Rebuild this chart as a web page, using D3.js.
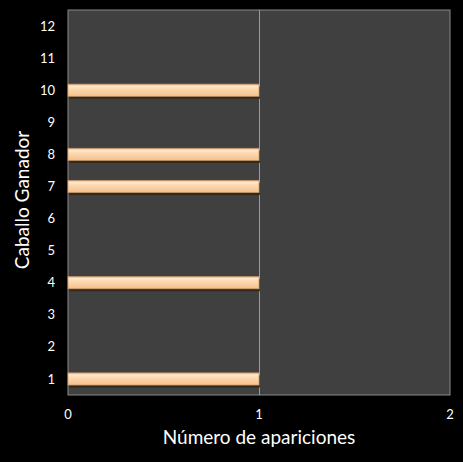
<!DOCTYPE html>
<html><head><meta charset="utf-8">
<script src="https://cdn.jsdelivr.net/npm/d3@7"></script>
<style>html,body{margin:0;padding:0;background:#000;}svg{display:block;}</style>
</head><body>
<script>
const categories = ["1","2","3","4","5","6","7","8","9","10","11","12"];
const values = [1,0,0,1,0,0,1,1,0,1,0,0];
const xTicks = [0,1,2];
const xTitle = "Número de apariciones";
const yTitle = "Caballo Ganador";

const W = 463, H = 462;
const m = {left:68, right:13, top:10, bottom:67};
const svg = d3.select("body").append("svg").attr("width",W).attr("height",H);
svg.append("rect").attr("width",W).attr("height",H).attr("fill","#000");

const x = d3.scaleLinear().domain([0,2]).range([m.left, W-m.right]);
const y = d3.scaleBand().domain(categories).range([H-m.bottom, m.top]).paddingInner(0.62).paddingOuter(0.31);

const defs = svg.append("defs");
const g = defs.append("linearGradient").attr("id","bar").attr("x1",0).attr("y1",0).attr("x2",0).attr("y2",1);
g.append("stop").attr("offset","0%").attr("stop-color","#dcae80");
g.append("stop").attr("offset","15%").attr("stop-color","#ffe8cc");
g.append("stop").attr("offset","45%").attr("stop-color","#fdd6ac");
g.append("stop").attr("offset","100%").attr("stop-color","#f6c08c");

// plot area
svg.append("rect").attr("x",x(0)).attr("y",m.top).attr("width",x(2)-x(0)).attr("height",H-m.bottom-m.top)
  .attr("fill","#404040").attr("stroke","#8a8a8a").attr("stroke-width",1);

// gridlines
svg.append("g").selectAll("line").data(xTicks.filter(d=>d>0 && d<2)).join("line")
  .attr("x1",d=>x(d)+0.5).attr("x2",d=>x(d)+0.5).attr("y1",m.top).attr("y2",H-m.bottom)
  .attr("stroke","#9a9a9a").attr("stroke-width",1);

const data = categories.map((c,i)=>({c, v:values[i]})).filter(d=>d.v>0);
// shadows
svg.append("g").selectAll("rect").data(data).join("rect")
  .attr("x",x(0)+1).attr("y",d=>y(d.c)+2.5).attr("width",d=>x(d.v)-x(0)).attr("height",y.bandwidth())
  .attr("fill","#33261a").attr("opacity",0.85);
svg.append("g").selectAll("rect").data(data).join("rect")
  .attr("x",x(0)).attr("y",d=>y(d.c)).attr("width",d=>x(d.v)-x(0)).attr("height",y.bandwidth())
  .attr("fill","url(#bar)").attr("stroke","#c99a6a").attr("stroke-width",0.7);

const font = "Lato, 'Open Sans', sans-serif";
// x tick labels
svg.append("g").selectAll("text").data(xTicks).join("text")
  .attr("x",d=>x(d)).attr("y",419).attr("text-anchor","middle")
  .attr("fill","#fff").attr("font-family",font).attr("font-size",13).text(d=>d);
// y tick labels
svg.append("g").selectAll("text").data(categories).join("text")
  .attr("x",55).attr("y",d=>y(d)+y.bandwidth()/2).attr("dy","0.35em").attr("text-anchor","end")
  .attr("fill","#fff").attr("font-family",font).attr("font-size",13).text(d=>d);

svg.append("text").attr("x",(x(0)+x(2))/2).attr("y",444).attr("text-anchor","middle")
  .attr("fill","#fff").attr("font-family",font).attr("font-size",19).text(xTitle);
svg.append("text").attr("transform","translate(29,200) rotate(-90)").attr("text-anchor","middle")
  .attr("fill","#fff").attr("font-family",font).attr("font-size",19).text(yTitle);
</script>
</body></html>
